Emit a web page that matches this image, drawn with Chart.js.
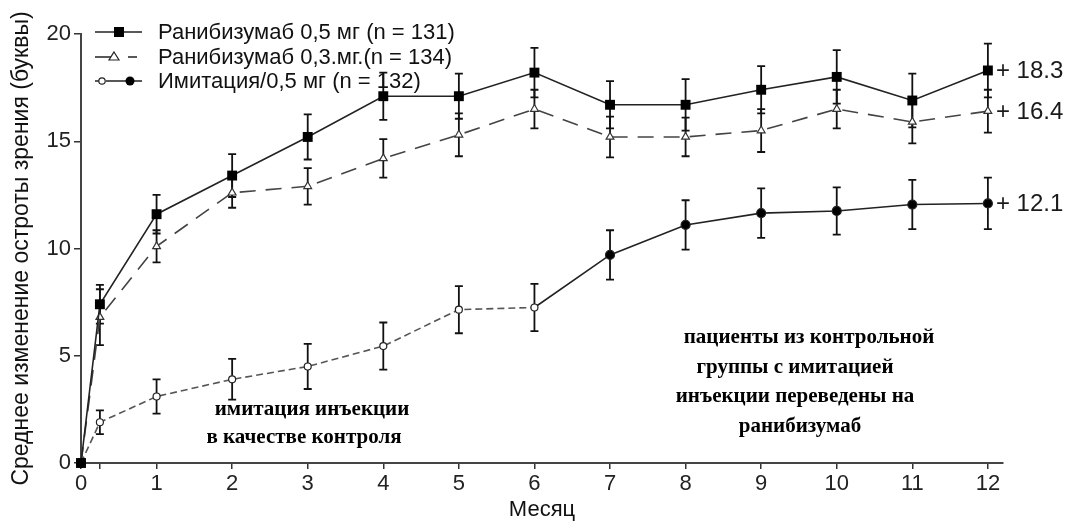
<!DOCTYPE html>
<html><head><meta charset="utf-8">
<script src="https://cdn.jsdelivr.net/npm/chart.js@4.4.0/dist/chart.umd.min.js"></script>
<style>html,body{margin:0;padding:0;background:#fff}canvas{display:block}</style>
</head><body><canvas id="c" width="1069" height="524"></canvas>
<script>
// ---- data ----
const months = [0, 0.25, 1, 2, 3, 4, 5, 6, 7, 8, 9, 10, 11, 12];
const ran05 = [0, 7.4, 11.6, 13.4, 15.2, 17.1, 17.1, 18.2, 16.7, 16.7, 17.4, 18.0, 16.9, 18.3];
const err05 = [0, 0.9, 0.9, 1.0, 1.05, 1.1, 1.05, 1.15, 1.1, 1.2, 1.1, 1.25, 1.25, 1.25];
const ran03 = [0, 6.8, 10.1, 12.6, 12.9, 14.2, 15.3, 16.5, 15.2, 15.2, 15.5, 16.5, 15.9, 16.4];
const err03 = [0, 1.3, 0.75, 0.7, 0.85, 0.9, 1.0, 0.9, 0.95, 0.9, 1.0, 0.9, 1.0, 1.0];
const sham = [0, 1.9, 3.1, 3.9, 4.5, 5.45, 7.15, 7.25, 9.7, 11.1, 11.65, 11.75, 12.05, 12.1];
const errSham = [0, 0.55, 0.8, 0.95, 1.05, 1.1, 1.1, 1.1, 1.15, 1.15, 1.15, 1.1, 1.15, 1.2];
const seriesLabels = ['Ранибизумаб 0,5 мг (n = 131)', 'Ранибизумаб 0,3.мг.(n = 134)', 'Имитация/0,5 мг (n = 132)'];
const endLabels = ['+ 18.3', '+ 16.4', '+ 12.1'];
const endValues = [18.3, 16.4, 12.1];
const xTicks = [0, 0.25, 1, 2, 3, 4, 5, 6, 7, 8, 9, 10, 11, 12];
const yTicks = [0, 5, 10, 15, 20];
const xTitle = 'Месяц';
const yTitle = 'Среднее изменение остроты зрения (буквы)';
const noteLeft = ['имитация инъекции', 'в качестве контроля'];
const noteRight = ['пациенты из контрольной', 'группы с имитацией', 'инъекции переведены на', 'ранибизумаб'];
const crossoverMonth = 6;

const SANS = '"Liberation Sans", Arial, sans-serif';
const SERIF = '"Liberation Serif", "Times New Roman", serif';

function pts(arr) { return months.map((m, i) => ({ x: m, y: arr[i] })); }

const errorBars = {
  id: 'errorBars',
  beforeDatasetsDraw(chart) {
    const ctx = chart.ctx, ys = chart.scales.y;
    ctx.save();
    ctx.strokeStyle = '#111';
    ctx.lineWidth = 1.8;
    chart.data.datasets.forEach((ds, di) => {
      const meta = chart.getDatasetMeta(di);
      (ds.errors || []).forEach((e, j) => {
        if (!e) return;
        const p = meta.data[j];
        const v = ds.data[j].y;
        const yt = ys.getPixelForValue(v + e), yb = ys.getPixelForValue(v - e);
        ctx.beginPath();
        ctx.moveTo(p.x, yt); ctx.lineTo(p.x, yb);
        ctx.moveTo(p.x - 4, yt); ctx.lineTo(p.x + 4, yt);
        ctx.moveTo(p.x - 4, yb); ctx.lineTo(p.x + 4, yb);
        ctx.stroke();
      });
    });
    ctx.restore();
  }
};

const extras = {
  id: 'extras',
  afterDraw(chart) {
    const ctx = chart.ctx, xs = chart.scales.x, ys = chart.scales.y;
    ctx.save();
    // end labels
    ctx.fillStyle = '#1a1a1a';
    ctx.font = '24px ' + SANS;
    ctx.textAlign = 'left';
    ctx.textBaseline = 'middle';
    endLabels.forEach((t, i) => {
      ctx.fillText(t, xs.getPixelForValue(months[months.length - 1]) + 8, ys.getPixelForValue(endValues[i]) + 1);
    });
    // annotations
    ctx.fillStyle = '#000';
    ctx.font = 'bold 21px ' + SERIF;
    ctx.textAlign = 'center';
    ctx.fillText(noteLeft[0], 312, 410);
    ctx.fillText(noteLeft[1], 304, 438);
    const rx = [809, 795, 795, 800], ry = [338, 368, 397, 427];
    noteRight.forEach((t, i) => ctx.fillText(t, rx[i], ry[i]));
    // legend
    const rows = [32, 57, 81];
    ctx.textAlign = 'left';
    ctx.font = '22px ' + SANS;
    ctx.fillStyle = '#111';
    seriesLabels.forEach((t, i) => ctx.fillText(t, 158, rows[i] + 1));
    ctx.strokeStyle = '#222';
    ctx.lineWidth = 1.6;
    // row 1
    ctx.beginPath(); ctx.moveTo(95, rows[0]); ctx.lineTo(142, rows[0]); ctx.stroke();
    ctx.fillStyle = '#000'; ctx.fillRect(114, rows[0] - 5, 10, 10);
    // row 2
    ctx.beginPath(); ctx.moveTo(95, rows[1]); ctx.lineTo(111, rows[1]); ctx.moveTo(128, rows[1]); ctx.lineTo(137, rows[1]); ctx.stroke();
    ctx.lineWidth = 1.2;
    ctx.beginPath(); ctx.moveTo(114, rows[1] - 5); ctx.lineTo(119, rows[1] + 3); ctx.lineTo(109, rows[1] + 3); ctx.closePath();
    ctx.fillStyle = '#fff'; ctx.fill(); ctx.stroke();
    // row 3
    ctx.lineWidth = 1.6;
    ctx.beginPath(); ctx.moveTo(95, rows[2]); ctx.lineTo(100, rows[2]); ctx.moveTo(106, rows[2]); ctx.lineTo(142, rows[2]); ctx.stroke();
    ctx.lineWidth = 1.2;
    ctx.beginPath(); ctx.arc(102, rows[2], 3.2, 0, Math.PI * 2); ctx.fillStyle = '#fff'; ctx.fill(); ctx.stroke();
    ctx.beginPath(); ctx.arc(130, rows[2], 4.5, 0, Math.PI * 2); ctx.fillStyle = '#000'; ctx.fill();
    ctx.restore();
  }
};

new Chart(document.getElementById('c'), {
  type: 'line',
  data: {
    datasets: [
      {
        label: seriesLabels[0], data: pts(ran05), errors: err05, clip: false,
        borderColor: '#222', borderWidth: 1.6, pointStyle: 'rect', pointRadius: 7,
        pointBackgroundColor: '#000', pointBorderColor: '#000', pointBorderWidth: 0
      },
      {
        label: seriesLabels[1], data: pts(ran03), errors: err03, clip: false,
        borderColor: '#444', borderWidth: 1.6, borderDash: [16, 10],
        pointStyle: 'triangle', pointRadius: 4.5,
        pointBackgroundColor: '#fff', pointBorderColor: '#333', pointBorderWidth: 1.2
      },
      {
        label: seriesLabels[2], data: pts(sham), errors: errSham, clip: false,
        borderColor: '#222', borderWidth: 1.6,
        segment: {
          borderDash: c => c.p0.parsed.x < crossoverMonth ? [7, 4] : [],
          borderColor: c => c.p0.parsed.x < crossoverMonth ? '#555' : '#222'
        },
        pointStyle: 'circle',
        pointRadius: months.map(m => (m > 0 && m <= crossoverMonth) ? 3.5 : 4.5),
        pointBackgroundColor: months.map(m => (m > 0 && m <= crossoverMonth) ? '#fff' : '#000'),
        pointBorderColor: '#222', pointBorderWidth: 1.2
      }
    ]
  },
  options: {
    responsive: false, animation: false, devicePixelRatio: 1,
    layout: { padding: { left: 0, top: 34, right: 66, bottom: 0 } },
    plugins: { legend: { display: false }, tooltip: { enabled: false } },
    scales: {
      x: {
        type: 'linear', min: 0, max: 12.2,
        afterBuildTicks: s => { s.ticks = xTicks.map(v => ({ value: v })); },
        afterFit: s => { s.height = 61; },
        ticks: { autoSkip: false, maxRotation: 0, padding: 2, color: '#222', font: { family: SANS, size: 22 },
          callback: v => Number.isInteger(v) ? String(v) : '' },
        grid: { drawOnChartArea: false, tickLength: 6, color: '#333', lineWidth: 1.5 },
        border: { color: '#444', width: 2 },
        title: { display: true, text: xTitle, color: '#111', font: { family: SANS, size: 22 }, padding: { top: 0, bottom: 1 } }
      },
      y: {
        min: 0, max: 20,
        afterBuildTicks: s => { s.ticks = yTicks.map(v => ({ value: v })); },
        afterFit: s => { s.width = 81; },
        ticks: { padding: 3, color: '#222', font: { family: SANS, size: 22 } },
        grid: { drawOnChartArea: false, tickLength: 7, color: '#333', lineWidth: 1.5 },
        border: { color: '#444', width: 2 },
        title: { display: true, text: yTitle, color: '#111', font: { family: SANS, size: 23 }, padding: { top: 8, bottom: 0 } }
      }
    }
  },
  plugins: [errorBars, extras]
});
</script>
</body></html>
